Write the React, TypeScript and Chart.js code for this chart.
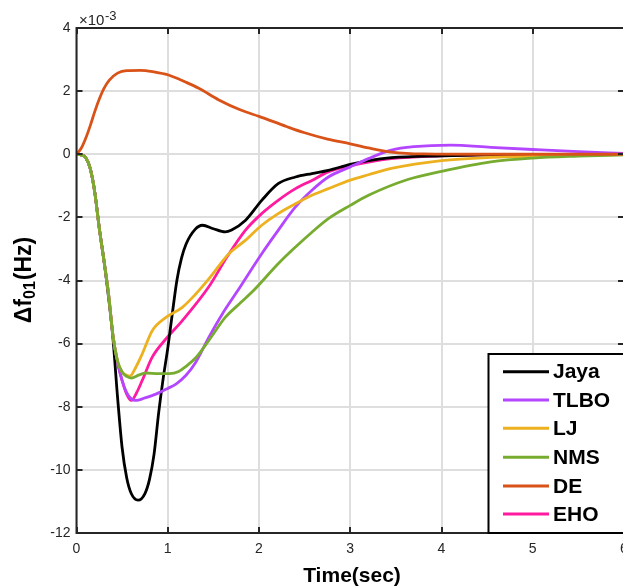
import React, { useEffect, useRef } from 'react';
import { Chart, registerables } from 'chart.js';

Chart.register(...registerables);

// ---- axis ticks ----
const xTickValues = [0, 1, 2, 3, 4, 5, 6];
const yTickValues = [-12, -10, -8, -6, -4, -2, 0, 2, 4];

// ---- series (values in units of 1e-3 Hz) ----
const jayaT = [0, 0.05, 0.1, 0.15, 0.2, 0.25, 0.3, 0.35, 0.4, 0.45, 0.5, 0.55, 0.6, 0.675, 0.75, 0.8, 0.85, 0.9, 0.95, 1.0, 1.05, 1.1, 1.15, 1.2, 1.3, 1.38, 1.5, 1.63, 1.7, 1.85, 2.03, 2.21, 2.4, 2.58, 2.76, 3.0, 3.2, 3.45, 4.0, 4.5, 5, 6];
const jayaV = [0, -0.02, -0.1, -0.45, -1.2, -2.35, -3.35, -4.5, -5.85, -7.7, -9.3, -10.25, -10.75, -10.96, -10.75, -10.3, -9.5, -8.2, -7.1, -6.15, -5.05, -4.0, -3.3, -2.85, -2.38, -2.25, -2.36, -2.46, -2.4, -2.1, -1.46, -0.93, -0.72, -0.61, -0.51, -0.32, -0.2, -0.11, -0.05, -0.02, -0.01, 0];

const tlboT = [0, 0.05, 0.1, 0.15, 0.2, 0.25, 0.3, 0.35, 0.4, 0.45, 0.5, 0.55, 0.6, 0.65, 0.75, 0.87, 1.0, 1.09, 1.2, 1.3, 1.45, 1.6, 1.76, 2.03, 2.21, 2.4, 2.58, 2.76, 3.0, 3.2, 3.45, 3.7, 4.1, 4.54, 5.0, 5.5, 6];
const tlboV = [0, -0.02, -0.1, -0.45, -1.2, -2.35, -3.35, -4.4, -5.75, -6.6, -7.17, -7.55, -7.75, -7.8, -7.72, -7.6, -7.42, -7.28, -7.0, -6.62, -5.8, -5.05, -4.35, -3.15, -2.41, -1.67, -1.14, -0.72, -0.4, -0.14, 0.13, 0.24, 0.29, 0.22, 0.15, 0.08, 0.03];

const ljT = [0, 0.05, 0.1, 0.15, 0.2, 0.25, 0.3, 0.35, 0.4, 0.45, 0.5, 0.55, 0.585, 0.65, 0.72, 0.83, 0.98, 1.16, 1.3, 1.45, 1.67, 1.85, 2.03, 2.21, 2.4, 2.58, 2.76, 3.0, 3.2, 3.45, 4.0, 4.54, 5.27, 6];
const ljV = [0, -0.02, -0.1, -0.45, -1.2, -2.35, -3.35, -4.4, -5.75, -6.55, -6.9, -7.0, -7.03, -6.75, -6.33, -5.59, -5.17, -4.85, -4.45, -3.95, -3.15, -2.73, -2.25, -1.88, -1.57, -1.3, -1.09, -0.82, -0.65, -0.45, -0.2, -0.1, -0.05, -0.01];

const nmsT = [0, 0.05, 0.1, 0.15, 0.2, 0.25, 0.3, 0.35, 0.4, 0.45, 0.5, 0.55, 0.6, 0.68, 0.76, 0.9, 1.02, 1.12, 1.2, 1.31, 1.45, 1.63, 1.8, 1.94, 2.21, 2.4, 2.58, 2.76, 3.0, 3.2, 3.63, 4.0, 4.54, 5.0, 5.5, 6];
const nmsV = [0, -0.02, -0.1, -0.45, -1.2, -2.35, -3.35, -4.4, -5.75, -6.55, -6.9, -7.04, -7.09, -7.0, -6.93, -6.95, -6.95, -6.88, -6.72, -6.44, -5.9, -5.17, -4.7, -4.32, -3.47, -2.94, -2.47, -2.04, -1.62, -1.3, -0.8, -0.54, -0.24, -0.12, -0.06, -0.02];

const deT = [0, 0.05, 0.1, 0.15, 0.2, 0.25, 0.3, 0.36, 0.45, 0.55, 0.7, 0.85, 1.0, 1.2, 1.34, 1.56, 1.8, 2.0, 2.3, 2.5, 2.75, 3.0, 3.2, 3.45, 3.8, 4.5, 6];
const deV = [0, 0.18, 0.5, 0.9, 1.35, 1.75, 2.08, 2.35, 2.57, 2.65, 2.66, 2.61, 2.52, 2.28, 2.09, 1.72, 1.4, 1.2, 0.88, 0.68, 0.48, 0.33, 0.2, 0.07, 0.01, 0, 0];

const ehoT = [0, 0.05, 0.1, 0.15, 0.2, 0.25, 0.3, 0.35, 0.4, 0.45, 0.5, 0.55, 0.6, 0.66, 0.72, 0.83, 0.98, 1.16, 1.45, 1.65, 1.85, 2.03, 2.21, 2.4, 2.58, 2.76, 3.0, 3.2, 3.45, 4.0, 4.5, 5, 6];
const ehoV = [0, -0.02, -0.1, -0.45, -1.2, -2.35, -3.35, -4.4, -5.75, -6.6, -7.17, -7.6, -7.8, -7.55, -7.17, -6.43, -5.85, -5.27, -4.2, -3.25, -2.41, -1.88, -1.46, -1.09, -0.83, -0.56, -0.37, -0.25, -0.14, -0.05, -0.02, -0.01, 0];

const seriesNames = ['Jaya', 'TLBO', 'LJ', 'NMS', 'DE', 'EHO'];
const seriesColors = ['#000000', '#b446ff', '#edb120', '#77ac30', '#d95319', '#ff1aa0'];
const seriesTimes = [jayaT, tlboT, ljT, nmsT, deT, ehoT];
const seriesValues = [jayaV, tlboV, ljV, nmsV, deV, ehoV];

const FONT = "'Liberation Sans', Arial, Helvetica, sans-serif";
const AXIS = '#262626';

const CANVAS_W = 650;
const CANVAS_H = 588;
const AREA_LEFT = 76.5;
const AREA_RIGHT = 624;
const AREA_TOP = 28;
const AREA_BOTTOM = 533;

const framePlugin = {
  id: 'frame',
  afterDatasetsDraw(chart: any) {
    const { ctx, chartArea: a, scales } = chart;
    const xs = scales.x;
    const ys = scales.y;
    ctx.save();
    ctx.strokeStyle = AXIS;
    ctx.lineWidth = 2;
    ctx.strokeRect(a.left, a.top, a.right - a.left, a.bottom - a.top);
    const tl = 6;
    ctx.beginPath();
    xTickValues.forEach((v) => {
      const px = Math.round(xs.getPixelForValue(v));
      ctx.moveTo(px, a.bottom);
      ctx.lineTo(px, a.bottom - tl);
      ctx.moveTo(px, a.top);
      ctx.lineTo(px, a.top + tl);
    });
    yTickValues.forEach((v) => {
      const py = Math.round(ys.getPixelForValue(v));
      ctx.moveTo(a.left, py);
      ctx.lineTo(a.left + tl, py);
      ctx.moveTo(a.right, py);
      ctx.lineTo(a.right - tl, py);
    });
    ctx.stroke();
    ctx.restore();
  },
};

const legendPlugin = {
  id: 'boxLegend',
  afterDraw(chart: any) {
    const { ctx, chartArea: a } = chart;
    const left = 488.5;
    const top = 354;
    const bottom = a.bottom;
    ctx.save();
    ctx.fillStyle = '#ffffff';
    ctx.fillRect(left, top, CANVAS_W - left, bottom - top);
    ctx.strokeStyle = '#000000';
    ctx.lineWidth = 2;
    ctx.strokeRect(left, top, CANVAS_W + 10 - left, bottom - top);
    const rows = [371.7, 400, 428.3, 457.3, 486, 514];
    ctx.font = `bold 21px ${FONT}`;
    ctx.textBaseline = 'middle';
    ctx.textAlign = 'left';
    seriesNames.forEach((name, i) => {
      const y = rows[i];
      ctx.strokeStyle = seriesColors[i];
      ctx.lineWidth = 3;
      ctx.beginPath();
      ctx.moveTo(503, y);
      ctx.lineTo(549, y);
      ctx.stroke();
      ctx.fillStyle = '#000000';
      ctx.fillText(name, 553, y + 1);
    });
    ctx.restore();
  },
};

const textPlugin = {
  id: 'axisTexts',
  afterDraw(chart: any) {
    const { ctx } = chart;
    ctx.save();
    ctx.fillStyle = AXIS;
    ctx.textBaseline = 'alphabetic';
    ctx.textAlign = 'left';
    // exponent label
    ctx.font = `15px ${FONT}`;
    const base = '\u00d710';
    ctx.fillText(base, 79, 24.5);
    const bw = ctx.measureText(base).width;
    ctx.font = `13px ${FONT}`;
    ctx.fillText('-3', 79 + bw + 0.5, 19.5);

    // x title
    ctx.fillStyle = '#000000';
    ctx.font = `bold 21px ${FONT}`;
    ctx.textAlign = 'center';
    ctx.fillText('Time(sec)', 352, 582);

    // y title (rotated)
    ctx.textAlign = 'left';
    const mainFont = `bold 23px ${FONT}`;
    const subFont = `bold 16px ${FONT}`;
    ctx.font = mainFont;
    const w1 = ctx.measureText('\u0394f').width;
    const w3 = ctx.measureText('(Hz)').width;
    ctx.font = subFont;
    const w2 = ctx.measureText('01').width;
    const total = w1 + w2 + w3 + 1;
    ctx.translate(31, 280 + total / 2);
    ctx.rotate(-Math.PI / 2);
    ctx.font = mainFont;
    ctx.fillText('\u0394f', 0, 0);
    ctx.font = subFont;
    ctx.fillText('01', w1, 4);
    ctx.font = mainFont;
    ctx.fillText('(Hz)', w1 + w2 + 1, 0);
    ctx.restore();
  },
};

export default function App() {
  const canvasRef = useRef<HTMLCanvasElement | null>(null);

  useEffect(() => {
    if (!canvasRef.current) return;
    const datasets = seriesNames.map((name, i) => ({
      label: name,
      data: seriesTimes[i].map((t, k) => ({ x: t, y: seriesValues[i][k] })),
      borderColor: seriesColors[i],
      backgroundColor: seriesColors[i],
      borderWidth: 2.8,
      pointRadius: 0,
      fill: false,
      cubicInterpolationMode: 'monotone' as const,
    }));
    const ordered = [datasets[4], datasets[3], datasets[2], datasets[1], datasets[0], datasets[5]];

    const chart = new Chart(canvasRef.current, {
      type: 'line',
      data: { datasets: ordered },
      options: {
        animation: false,
        responsive: false,
        maintainAspectRatio: false,
        devicePixelRatio: 1,
        layout: { padding: { left: 0, top: AREA_TOP, right: CANVAS_W - AREA_RIGHT, bottom: 0 } },
        plugins: {
          legend: { display: false },
          tooltip: { enabled: false },
          title: { display: false },
        },
        scales: {
          x: {
            type: 'linear',
            min: 0,
            max: 6,
            afterFit: (s: any) => {
              s.height = CANVAS_H - AREA_BOTTOM;
            },
            afterBuildTicks: (s: any) => {
              s.ticks = xTickValues.map((v) => ({ value: v }));
            },
            ticks: {
              font: { family: FONT, size: 14 },
              color: AXIS,
              padding: 8,
              maxRotation: 0,
              autoSkip: false,
              callback: (v: any) => String(v),
            },
            grid: { color: '#dedede', lineWidth: 2, drawTicks: false },
            border: { display: false },
          },
          y: {
            type: 'linear',
            min: -12,
            max: 4,
            afterFit: (s: any) => {
              s.width = AREA_LEFT;
            },
            afterBuildTicks: (s: any) => {
              s.ticks = yTickValues.map((v) => ({ value: v }));
            },
            ticks: {
              font: { family: FONT, size: 14 },
              color: AXIS,
              padding: 6,
              autoSkip: false,
              callback: (v: any) => String(v),
            },
            grid: { color: '#dedede', lineWidth: 2, drawTicks: false },
            border: { display: false },
          },
        },
      },
      plugins: [framePlugin, legendPlugin, textPlugin],
    });
    return () => chart.destroy();
  }, []);

  return (
    <div
      style={{
        position: 'absolute',
        left: 0,
        top: 0,
        width: 623,
        height: 588,
        overflow: 'hidden',
        background: '#ffffff',
      }}
    >
      <canvas ref={canvasRef} width={CANVAS_W} height={CANVAS_H} style={{ display: 'block' }} />
    </div>
  );
}
